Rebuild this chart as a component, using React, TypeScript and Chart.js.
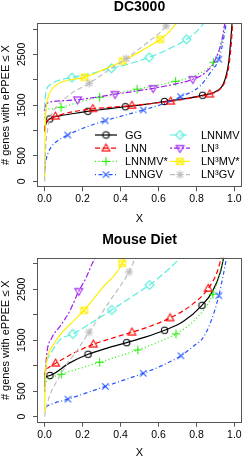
import React, { useEffect, useRef } from 'react';
import { Chart, registerables } from 'chart.js';

Chart.register(...registerables);

// ---------- axis ticks ----------
const X_TICKS = [0, 0.2, 0.4, 0.6, 0.8, 1.0];
const X_TICK_LABELS = ['0.0', '0.2', '0.4', '0.6', '0.8', '1.0'];
const Y_TICKS = [0, 500, 1000, 1500, 2000, 2500, 3000];
const Y_TICK_LABELS = ['0', '500', '', '1500', '', '2500', ''];

const SERIES_NAMES = ['GG', 'LNN', 'LNNMV*', 'LNNGV', 'LNNMV', 'LN³', 'LN³MV*', 'LN³GV'];
const PANEL_TITLES = ['DC3000', 'Mouse Diet'];

// ---------- DC3000 curves: [X, # genes] ----------
const dcGG = [[0, 980], [0.004, 1090], [0.027, 1227], [0.08, 1290], [0.13, 1320], [0.228, 1379], [0.33, 1425], [0.425, 1469], [0.53, 1515], [0.631, 1572], [0.74, 1628], [0.832, 1694], [0.9, 1765], [0.943, 1931], [0.969, 2325], [0.981, 2785], [0.99, 3250]];
const dcGGMarks = [[0.027, 1227], [0.228, 1379], [0.425, 1469], [0.631, 1572], [0.832, 1694]];
const dcLNN = [[0, 1000], [0.004, 1110], [0.057, 1280], [0.15, 1370], [0.254, 1428], [0.36, 1462], [0.46, 1493], [0.56, 1530], [0.664, 1576], [0.77, 1640], [0.87, 1716], [0.92, 1800], [0.952, 1980], [0.973, 2330], [0.985, 2780], [0.993, 3250]];
const dcLNNMarks = [[0.057, 1280], [0.254, 1428], [0.46, 1493], [0.664, 1576], [0.87, 1716]];
const dcLNNMVs = [[0, 1250], [0.005, 1390], [0.03, 1425], [0.087, 1458], [0.19, 1570], [0.29, 1657], [0.39, 1740], [0.487, 1815], [0.59, 1890], [0.69, 1970], [0.8, 2100], [0.89, 2347], [0.93, 2700], [0.955, 3250]];
const dcLNNMVsMarks = [[0.087, 1458], [0.29, 1657], [0.487, 1815], [0.69, 1970], [0.89, 2347]];
const dcLNNGV = [[0, 150], [0.004, 330], [0.015, 520], [0.036, 680], [0.062, 779], [0.122, 911], [0.22, 1070], [0.319, 1193], [0.42, 1300], [0.52, 1404], [0.62, 1520], [0.717, 1667], [0.82, 1880], [0.88, 2180], [0.918, 2404], [0.945, 2850], [0.962, 3250]];
const dcLNNGVMarks = [[0.122, 911], [0.319, 1193], [0.52, 1404], [0.717, 1667], [0.918, 2404]];
const dcLNNMV = [[0, 1420], [0.005, 1700], [0.012, 1820], [0.027, 1897], [0.079, 1996], [0.145, 2045], [0.25, 2130], [0.352, 2227], [0.45, 2320], [0.551, 2444], [0.65, 2600], [0.748, 2799], [0.8, 2950], [0.845, 3150], [0.87, 3300]];
const dcLNNMVMarks = [[0.145, 2045], [0.352, 2227], [0.551, 2444], [0.748, 2799]];
const dcLN3 = [[0, 1380], [0.006, 1500], [0.02, 1550], [0.04, 1568], [0.1, 1588], [0.174, 1607], [0.27, 1655], [0.371, 1716], [0.47, 1770], [0.572, 1832], [0.68, 1910], [0.781, 2010], [0.85, 2150], [0.9, 2400], [0.935, 2800], [0.955, 3250]];
const dcLN3Marks = [[0.174, 1607], [0.371, 1716], [0.572, 1832], [0.781, 2010]];
const dcLN3MVs = [[0, 0], [0.002, 700], [0.005, 1250], [0.02, 1667], [0.063, 1897], [0.131, 1996], [0.21, 2049], [0.31, 2200], [0.412, 2371], [0.51, 2570], [0.609, 2799], [0.66, 2960], [0.72, 3250]];
const dcLN3MVsMarks = [[0.21, 2049], [0.412, 2371], [0.609, 2799]];
const dcLN3GV = [[0, 0], [0.004, 500], [0.015, 1000], [0.035, 1300], [0.063, 1469], [0.13, 1700], [0.235, 1931], [0.33, 2170], [0.43, 2420], [0.54, 2730], [0.64, 3061], [0.67, 3250]];
const dcLN3GVMarks = [[0.235, 1931], [0.43, 2420], [0.64, 3061]];

// ---------- Mouse Diet curves: [X, # genes] ----------
const mdGG = [[0, 680], [0.004, 760], [0.028, 807], [0.13, 1050], [0.229, 1224], [0.33, 1345], [0.432, 1452], [0.53, 1560], [0.632, 1695], [0.73, 1865], [0.829, 2185], [0.884, 2454], [0.927, 2847], [0.95, 3250]];
const mdGGMarks = [[0.028, 807], [0.229, 1224], [0.432, 1452], [0.632, 1695], [0.829, 2185]];
const mdLNN = [[0, 780], [0.005, 900], [0.02, 960], [0.058, 1047], [0.16, 1260], [0.257, 1420], [0.36, 1545], [0.46, 1656], [0.56, 1780], [0.661, 1937], [0.77, 2180], [0.862, 2515], [0.91, 2850], [0.94, 3250]];
const mdLNNMarks = [[0.058, 1047], [0.257, 1420], [0.46, 1656], [0.661, 1937], [0.862, 2515]];
const mdLNNMVs = [[0, 480], [0.004, 620], [0.02, 720], [0.088, 831], [0.19, 950], [0.29, 1067], [0.39, 1185], [0.491, 1308], [0.59, 1450], [0.692, 1623], [0.8, 1930], [0.887, 2403], [0.925, 2850], [0.95, 3250]];
const mdLNNMVsMarks = [[0.088, 831], [0.29, 1067], [0.491, 1308], [0.692, 1623], [0.887, 2403]];
const mdLNNGV = [[0, 120], [0.01, 190], [0.04, 250], [0.123, 342], [0.22, 465], [0.32, 593], [0.42, 720], [0.52, 851], [0.62, 1005], [0.718, 1194], [0.79, 1400], [0.833, 1538], [0.876, 1865], [0.918, 2375], [0.945, 2850], [0.965, 3250]];
const mdLNNGVMarks = [[0.123, 342], [0.32, 593], [0.52, 851], [0.718, 1194], [0.918, 2375]];
const mdLNNMV = [[0, 700], [0.005, 950], [0.012, 1100], [0.028, 1210], [0.08, 1505], [0.149, 1623], [0.25, 1850], [0.354, 2094], [0.45, 2330], [0.553, 2585], [0.64, 2850], [0.712, 3110], [0.74, 3250]];
const mdLNNMVMarks = [[0.149, 1623], [0.354, 2094], [0.553, 2585]];
const mdLN3 = [[0, 500], [0.002, 700], [0.011, 1210], [0.037, 1538], [0.08, 1766], [0.131, 2061], [0.18, 2462], [0.217, 2717], [0.26, 3077], [0.29, 3250]];
const mdLN3Marks = [[0.18, 2462]];
const mdLN3MVs = [[0, 80], [0.002, 500], [0.006, 900], [0.011, 1079], [0.046, 1407], [0.097, 1668], [0.149, 1865], [0.208, 2088], [0.303, 2521], [0.409, 3012], [0.43, 3250]];
const mdLN3MVsMarks = [[0.208, 2088], [0.409, 3012]];
const mdLN3GV = [[0, 0], [0.01, 200], [0.028, 424], [0.063, 686], [0.114, 1014], [0.166, 1275], [0.234, 1656], [0.34, 2250], [0.445, 2841], [0.47, 3050], [0.49, 3250]];
const mdLN3GVMarks = [[0.234, 1656], [0.445, 2841]];

const PANEL_LINES = [
  [dcGG, dcLNN, dcLNNMVs, dcLNNGV, dcLNNMV, dcLN3, dcLN3MVs, dcLN3GV],
  [mdGG, mdLNN, mdLNNMVs, mdLNNGV, mdLNNMV, mdLN3, mdLN3MVs, mdLN3GV],
];
const PANEL_MARKS = [
  [dcGGMarks, dcLNNMarks, dcLNNMVsMarks, dcLNNGVMarks, dcLNNMVMarks, dcLN3Marks, dcLN3MVsMarks, dcLN3GVMarks],
  [mdGGMarks, mdLNNMarks, mdLNNMVsMarks, mdLNNGVMarks, mdLNNMVMarks, mdLN3Marks, mdLN3MVsMarks, mdLN3GVMarks],
];

// ---------- styles ----------
const FONT = "'Liberation Sans', Arial, Helvetica, sans-serif";
const COLORS = ['#000000', '#ff0000', '#22ee00', '#2255ff', '#55eedd', '#a020f0', '#ffee00', '#bebebe'];
const DASHES: number[][] = [[], [5, 3], [1, 2.5], [1, 2.5, 4, 2.5], [7, 3], [2, 2, 6, 2], [], [5, 3]];
const MARKER_KINDS = ['circle', 'tri', 'plus', 'x', 'diamond', 'tridown', 'sqx', 'star'];
const AXIS_COLOR = '#555';

function makeMarker(kind: string, color: string): HTMLCanvasElement {
  const c = document.createElement('canvas');
  c.width = 13;
  c.height = 13;
  const g = c.getContext('2d')!;
  g.strokeStyle = color;
  g.lineWidth = 1.1;
  const m = 6.5;
  g.beginPath();
  if (kind === 'circle') {
    g.arc(m, m, 3.2, 0, Math.PI * 2);
  } else if (kind === 'tri') {
    g.moveTo(m, m - 4.2); g.lineTo(m + 3.9, m + 2.6); g.lineTo(m - 3.9, m + 2.6); g.closePath();
  } else if (kind === 'tridown') {
    g.moveTo(m, m + 4.2); g.lineTo(m + 3.9, m - 2.6); g.lineTo(m - 3.9, m - 2.6); g.closePath();
  } else if (kind === 'plus') {
    g.moveTo(m - 4.2, m); g.lineTo(m + 4.2, m); g.moveTo(m, m - 4.2); g.lineTo(m, m + 4.2);
  } else if (kind === 'x') {
    g.moveTo(m - 3.2, m - 3.2); g.lineTo(m + 3.2, m + 3.2); g.moveTo(m + 3.2, m - 3.2); g.lineTo(m - 3.2, m + 3.2);
  } else if (kind === 'diamond') {
    g.moveTo(m, m - 4.4); g.lineTo(m + 4.4, m); g.lineTo(m, m + 4.4); g.lineTo(m - 4.4, m); g.closePath();
  } else if (kind === 'sqx') {
    g.rect(m - 3.3, m - 3.3, 6.6, 6.6);
    g.moveTo(m - 3.3, m - 3.3); g.lineTo(m + 3.3, m + 3.3); g.moveTo(m + 3.3, m - 3.3); g.lineTo(m - 3.3, m + 3.3);
  } else if (kind === 'star') {
    g.moveTo(m - 4, m); g.lineTo(m + 4, m); g.moveTo(m, m - 4); g.lineTo(m, m + 4);
    g.moveTo(m - 3, m - 3); g.lineTo(m + 3, m + 3); g.moveTo(m + 3, m - 3); g.lineTo(m - 3, m + 3);
  }
  g.stroke();
  return c;
}

type Layout = { titleTop: number; titleBottom: number; xAxisH: number; xTitleBottom: number; legend: boolean };
const LAYOUTS: Layout[] = [
  { titleTop: 0, titleBottom: 9, xAxisH: 41.7, xTitleBottom: 5, legend: true },
  { titleTop: 4.5, titleBottom: 10.2, xAxisH: 35.3, xTitleBottom: 0, legend: false },
];

const framePlugin = {
  id: 'frame',
  afterDatasetsDraw(chart: any) {
    const { ctx, chartArea: a } = chart;
    ctx.save();
    ctx.strokeStyle = AXIS_COLOR;
    ctx.lineWidth = 1;
    ctx.setLineDash([]);
    ctx.strokeRect(Math.round(a.left) + 0.5, Math.round(a.top) + 0.5, Math.round(a.right - a.left) - 1, Math.round(a.bottom - a.top) - 1);
    ctx.restore();
  },
};

function makeLegendPlugin(markers: HTMLCanvasElement[]) {
  return {
    id: 'rlegend',
    afterDraw(chart: any) {
      const ctx = chart.ctx;
      const cols = [{ x0: 95, x1: 117, tx: 125 }, { x0: 170, x1: 190, tx: 201 }];
      const rows = [135, 148.2, 161.4, 174.6];
      ctx.save();
      ctx.font = `11px ${FONT}`;
      ctx.textBaseline = 'middle';
      ctx.textAlign = 'left';
      SERIES_NAMES.forEach((name, i) => {
        const col = cols[Math.floor(i / 4)];
        const y = rows[i % 4];
        ctx.strokeStyle = COLORS[i];
        ctx.lineWidth = 1.2;
        ctx.setLineDash(DASHES[i]);
        ctx.beginPath();
        ctx.moveTo(col.x0, y);
        ctx.lineTo(col.x1, y);
        ctx.stroke();
        ctx.setLineDash([]);
        const mk = markers[i];
        ctx.drawImage(mk, (col.x0 + col.x1) / 2 - mk.width / 2, y - mk.height / 2);
        ctx.fillStyle = '#000';
        ctx.fillText(name, col.tx, y + 0.5);
      });
      ctx.restore();
    },
  };
}

function buildConfig(p: number): any {
  const L = LAYOUTS[p];
  const markers = MARKER_KINDS.map((k, i) => makeMarker(k, COLORS[i]));
  const datasets: any[] = [];
  PANEL_LINES[p].forEach((pts, i) => {
    datasets.push({
      data: pts.map(([x, y]) => ({ x, y })),
      borderColor: COLORS[i],
      borderWidth: 1.2,
      borderDash: DASHES[i],
      pointRadius: 0,
      fill: false,
      cubicInterpolationMode: 'monotone',
      order: 100 - i * 2,
      clip: 0,
    });
    datasets.push({
      data: PANEL_MARKS[p][i].map(([x, y]) => ({ x, y })),
      showLine: false,
      pointStyle: markers[i],
      pointRadius: 4,
      borderColor: COLORS[i],
      backgroundColor: COLORS[i],
      order: 99 - i * 2,
      clip: 0,
    });
  });
  const tickFont = { family: FONT, size: 10.5 };
  return {
    type: 'line',
    data: { datasets },
    options: {
      responsive: false,
      animation: false,
      events: [],
      layout: { padding: { left: 0, right: 0, top: 0, bottom: 0 } },
      plugins: {
        legend: { display: false },
        tooltip: { enabled: false },
        title: {
          display: true,
          text: PANEL_TITLES[p],
          fullSize: false,
          color: '#000',
          font: { family: FONT, size: 14, weight: 'bold', lineHeight: 1 },
          padding: { top: L.titleTop, bottom: L.titleBottom },
        },
      },
      scales: {
        x: {
          type: 'linear',
          min: -0.04,
          max: 1.04,
          afterBuildTicks: (s: any) => { s.ticks = X_TICKS.map((v) => ({ value: v })); },
          afterFit: (s: any) => { s.height = L.xAxisH; },
          ticks: {
            autoSkip: false,
            maxRotation: 0,
            color: '#000',
            font: tickFont,
            padding: 2,
            callback: (_v: any, i: number) => X_TICK_LABELS[i],
          },
          grid: { drawOnChartArea: false, drawTicks: true, tickLength: 4, color: AXIS_COLOR },
          border: { display: false },
          title: {
            display: true,
            text: 'X',
            color: '#000',
            font: { family: FONT, size: 11, lineHeight: 1 },
            padding: { top: 0, bottom: L.xTitleBottom },
          },
        },
        y: {
          type: 'linear',
          min: -120,
          max: 3120,
          afterBuildTicks: (s: any) => { s.ticks = Y_TICKS.map((v) => ({ value: v })); },
          afterFit: (s: any) => { s.width = 37; },
          ticks: {
            autoSkip: false,
            minRotation: 90,
            maxRotation: 90,
            crossAlign: 'center',
            padding: -1,
            color: '#000',
            font: tickFont,
            callback: (_v: any, i: number) => Y_TICK_LABELS[i],
          },
          grid: { drawOnChartArea: false, drawTicks: true, tickLength: 4, color: AXIS_COLOR },
          border: { display: false },
          title: {
            display: true,
            text: '# genes with ePPEE ≤ X',
            color: '#000',
            font: { family: FONT, size: 11, lineHeight: 1 },
            padding: { top: 0, bottom: 0 },
          },
        },
      },
    },
    plugins: L.legend ? [framePlugin, makeLegendPlugin(markers)] : [framePlugin],
  };
}

function Panel({ index, top }: { index: number; top: number }) {
  const ref = useRef<HTMLCanvasElement | null>(null);
  useEffect(() => {
    if (!ref.current) return;
    const chart = new Chart(ref.current, buildConfig(index));
    return () => chart.destroy();
  }, [index]);
  return (
    <canvas
      ref={ref}
      width={247}
      height={229}
      style={{ position: 'absolute', left: 0, top, width: 247, height: 229 }}
    />
  );
}

export default function App() {
  return (
    <div style={{ position: 'fixed', left: 0, top: 0, width: 247, height: 458, background: '#fff', overflow: 'hidden' }}>
      <Panel index={0} top={0} />
      <Panel index={1} top={229} />
    </div>
  );
}
